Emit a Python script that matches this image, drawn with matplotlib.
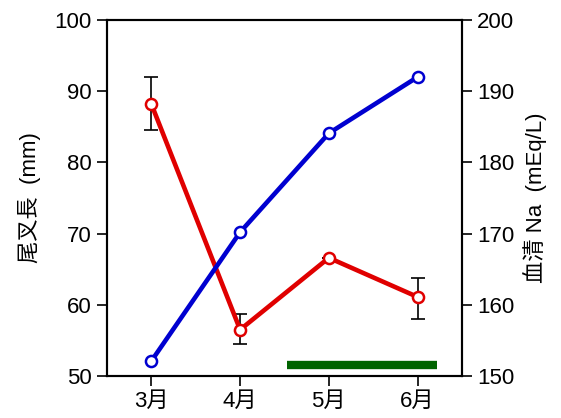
import matplotlib
matplotlib.use("Agg")
import matplotlib.pyplot as plt

plt.rcParams['font.family'] = ['Liberation Sans', 'Noto Sans CJK JP', 'DejaVu Sans']

months = ["3月", "4月", "5月", "6月"]
x = [3, 4, 5, 6]
fork_length = [88.2, 56.5, 66.6, 61.1]
fork_err_lo = [3.6, 2.0, 0.0, 3.1]
fork_err_hi = [3.8, 2.2, 0.0, 2.7]
serum_na = [152.1, 170.2, 184.1, 192.0]
green_span = (4.53, 6.22)
green_level = 51.5

fig = plt.figure(figsize=(5.61, 4.18), dpi=100)
ax = fig.add_axes([0.1907, 0.1005, 0.6328, 0.8515])
ax2 = ax.twinx()

ax.errorbar(x, fork_length, yerr=[fork_err_lo, fork_err_hi], fmt='none',
            ecolor='black', elinewidth=1.2, capsize=5, capthick=1.2, zorder=2)
ax.plot(x, fork_length, color='#e00000', lw=3.3, marker='o', ms=8,
        mfc='white', mec='#e00000', mew=1.8, zorder=3)
ax.plot(green_span, [green_level, green_level], color='#006400', lw=6,
        solid_capstyle='butt', zorder=3)

ax2.plot(x, serum_na, color='#0000d0', lw=3.3, marker='o', ms=8,
         mfc='white', mec='#0000d0', mew=1.8, zorder=3)

ax.set_xlim(2.5, 6.5)
ax.set_ylim(50, 100)
ax2.set_ylim(150, 200)
ax.set_xticks(x)
ax.set_xticklabels(months)
ax.set_yticks([50, 60, 70, 80, 90, 100])
ax2.set_yticks([150, 160, 170, 180, 190, 200])

for a in (ax, ax2):
    a.tick_params(direction='out', length=7, width=1.2, labelsize=16, pad=4)
    for s in a.spines.values():
        s.set_linewidth(1.5)

ax.set_ylabel("尾叉長  (mm)", fontsize=16, labelpad=10)
ax2.set_ylabel("血清 Na  (mEq/L)", fontsize=16, labelpad=6)

fig.savefig("out.png", dpi=100)
